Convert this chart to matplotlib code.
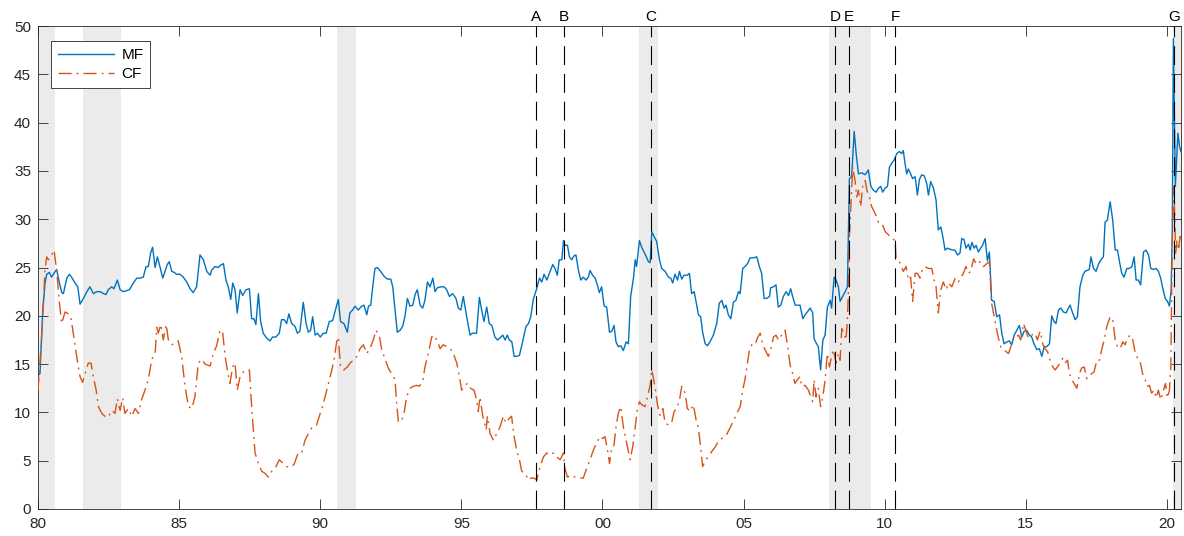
import matplotlib
matplotlib.use("Agg")
import matplotlib.pyplot as plt
import matplotlib.transforms as mtransforms

plt.rcParams['font.family'] = ['Liberation Sans', 'DejaVu Sans']

# MF series (decimal year, value)
mf_t = [
    1980.00, 1980.07, 1980.17, 1980.25, 1980.31, 1980.40, 1980.48, 1980.57, 1980.66, 1980.76,
    1980.84, 1980.90, 1981.02, 1981.11, 1981.19, 1981.31, 1981.41, 1981.49, 1981.61, 1981.73,
    1981.84, 1981.96, 1982.08, 1982.20, 1982.32, 1982.41, 1982.49, 1982.61, 1982.69, 1982.81,
    1982.91, 1983.02, 1983.14, 1983.24, 1983.38, 1983.50, 1983.62, 1983.73, 1983.83, 1983.91,
    1983.99, 1984.06, 1984.15, 1984.23, 1984.32, 1984.42, 1984.50, 1984.58, 1984.65, 1984.74,
    1984.82, 1984.91, 1985.03, 1985.15, 1985.27, 1985.39, 1985.50, 1985.62, 1985.74, 1985.86,
    1985.98, 1986.10, 1986.15, 1986.27, 1986.39,
    1986.45, 1986.57, 1986.66, 1986.74, 1986.83, 1986.90, 1986.98, 1987.06, 1987.16, 1987.25,
    1987.37, 1987.49, 1987.57, 1987.65, 1987.72, 1987.81, 1987.89, 1987.98, 1988.10, 1988.22,
    1988.31, 1988.43, 1988.55, 1988.63, 1988.72, 1988.81, 1988.89, 1988.99, 1989.11, 1989.19,
    1989.28, 1989.40, 1989.50, 1989.58, 1989.66, 1989.73, 1989.82, 1989.90, 1990.00, 1990.11,
    1990.21, 1990.32, 1990.44, 1990.52, 1990.64, 1990.72, 1990.84, 1990.96, 1991.05, 1991.15,
    1991.23, 1991.35, 1991.47, 1991.55, 1991.65, 1991.71, 1991.79, 1991.86, 1991.94, 1992.02,
    1992.14, 1992.26, 1992.38, 1992.50, 1992.57, 1992.65, 1992.73, 1992.83, 1992.92, 1993.00,
    1993.09, 1993.18,
    1993.28, 1993.36, 1993.44, 1993.54, 1993.63, 1993.71, 1993.80, 1993.89, 1993.99, 1994.07,
    1994.15, 1994.27, 1994.39, 1994.48, 1994.58, 1994.69, 1994.81, 1994.89, 1994.98, 1995.07,
    1995.19, 1995.31, 1995.40, 1995.54, 1995.64, 1995.72, 1995.80, 1995.90, 1995.99, 1996.08,
    1996.19, 1996.28, 1996.37, 1996.47, 1996.55, 1996.63, 1996.70, 1996.79, 1996.87, 1996.96,
    1997.06, 1997.17, 1997.29, 1997.38, 1997.46, 1997.55, 1997.67, 1997.77, 1997.85, 1997.93,
    1998.03, 1998.12, 1998.24, 1998.32, 1998.40, 1998.47, 1998.56, 1998.62, 1998.67, 1998.76,
    1998.83, 1998.91, 1998.99, 1999.06, 1999.15, 1999.23, 1999.32, 1999.42, 1999.50, 1999.56,
    1999.65, 1999.74, 1999.82, 1999.89,
    1999.97, 2000.06, 2000.15, 2000.25, 2000.33, 2000.41, 2000.48, 2000.56, 2000.65, 2000.74,
    2000.84, 2000.92, 2001.00, 2001.10, 2001.16, 2001.21, 2001.31, 2001.39, 2001.51, 2001.63,
    2001.69, 2001.75, 2001.83, 2001.92, 2002.02, 2002.10, 2002.22, 2002.34, 2002.42, 2002.49,
    2002.57, 2002.66, 2002.73, 2002.81, 2002.89, 2003.01, 2003.08, 2003.16, 2003.25, 2003.34,
    2003.40, 2003.48, 2003.55, 2003.64, 2003.72, 2003.81, 2003.93, 2004.05, 2004.14, 2004.23,
    2004.31, 2004.38, 2004.46, 2004.55, 2004.64, 2004.73, 2004.82, 2004.88, 2004.97, 2005.05,
    2005.14, 2005.23, 2005.35, 2005.47, 2005.56, 2005.64, 2005.73, 2005.82, 2005.92, 2005.96,
    2006.06, 2006.15, 2006.23, 2006.32, 2006.41, 2006.51, 2006.59, 2006.67, 2006.74, 2006.83,
    2006.91, 2007.00,
    2007.10, 2007.18, 2007.26, 2007.36, 2007.45, 2007.50, 2007.59, 2007.65, 2007.73, 2007.81,
    2007.89, 2007.97, 2008.07, 2008.12, 2008.21, 2008.28, 2008.36, 2008.42, 2008.51, 2008.60,
    2008.68, 2008.75, 2008.83, 2008.92, 2008.99, 2009.07, 2009.19, 2009.31, 2009.42, 2009.51,
    2009.60, 2009.70, 2009.78, 2009.86, 2009.93, 2010.01, 2010.10, 2010.17, 2010.25, 2010.33,
    2010.43, 2010.52, 2010.60, 2010.66, 2010.72, 2010.78, 2010.84, 2010.92, 2010.99, 2011.08,
    2011.16, 2011.23, 2011.31, 2011.40, 2011.49, 2011.55, 2011.63, 2011.73, 2011.82, 2011.90,
    2011.99, 2012.06, 2012.14, 2012.22, 2012.32, 2012.41, 2012.49, 2012.58, 2012.67, 2012.73,
    2012.81, 2012.88, 2012.97, 2013.03, 2013.09, 2013.17, 2013.24, 2013.32, 2013.40, 2013.47,
    2013.56, 2013.64,
    2013.71, 2013.79, 2013.88, 2013.97, 2014.07, 2014.15, 2014.23, 2014.33, 2014.42, 2014.50,
    2014.59, 2014.68, 2014.77, 2014.86, 2014.94, 2015.03, 2015.13, 2015.21, 2015.29, 2015.39,
    2015.48, 2015.57, 2015.65, 2015.74, 2015.84, 2015.92, 2016.00, 2016.07, 2016.16, 2016.24,
    2016.33, 2016.43, 2016.51, 2016.57, 2016.66, 2016.75, 2016.83, 2016.92, 2017.02, 2017.10,
    2017.18, 2017.25, 2017.31, 2017.40, 2017.49, 2017.57, 2017.66, 2017.75, 2017.81, 2017.89,
    2017.99, 2018.08, 2018.17, 2018.25, 2018.32, 2018.40, 2018.48, 2018.58, 2018.67, 2018.76,
    2018.84, 2018.91, 2018.99, 2019.07, 2019.17, 2019.26, 2019.35, 2019.43, 2019.52, 2019.62,
    2019.70, 2019.78, 2019.85, 2019.94, 2020.02, 2020.09, 2020.15, 2020.19, 2020.23, 2020.30,
    2020.39, 2020.45, 2020.50,
]
mf_v = [
    13.9, 14.0, 20.6, 23.4, 24.3, 24.5, 24.0, 24.4, 24.8, 23.4,
    22.4, 22.3, 23.9, 24.3, 24.0, 23.4, 23.0, 21.2, 21.8, 22.5,
    23.0, 22.3, 22.5, 22.5, 22.3, 22.2, 22.7, 23.0, 22.8, 23.7,
    22.7, 22.5, 22.6, 22.7, 23.4, 23.9, 23.9, 24.0, 25.1, 25.1,
    26.5, 27.1, 25.0, 26.1, 25.1, 23.9, 24.6, 25.3, 25.6, 24.6,
    24.5, 24.3, 24.3, 24.0, 23.5, 22.8, 22.4, 23.0, 26.3, 25.8,
    24.6, 24.2, 24.7, 25.1, 25.0,
    25.2, 25.4, 23.7, 23.0, 21.7, 23.4, 22.7, 20.3, 22.7, 22.1,
    22.7, 22.8, 19.7, 19.7, 19.1, 22.3, 19.4, 18.2, 17.7, 17.4,
    17.8, 17.8, 18.2, 19.6, 19.6, 19.2, 20.2, 19.2, 18.9, 18.2,
    18.4, 21.4, 19.2, 18.3, 18.5, 19.9, 18.0, 18.2, 17.8, 18.2,
    18.2, 19.4, 19.5, 20.4, 21.7, 19.4, 19.2, 18.3, 20.3, 20.6,
    21.0, 20.6, 21.0, 21.1, 20.1, 21.0, 21.1, 23.0, 24.9, 25.0,
    24.6, 24.1, 23.8, 23.8, 23.0, 20.6, 18.3, 18.5, 18.9, 19.9,
    21.8, 21.0,
    21.1, 22.2, 22.7, 21.1, 20.8, 21.6, 23.5, 23.0, 23.9, 22.5,
    22.9, 23.0, 23.0, 22.7, 22.0, 22.3, 21.8, 20.8, 20.6, 22.0,
    19.9, 18.0, 18.2, 18.2, 21.9, 20.6, 19.4, 20.9, 19.2, 19.0,
    17.8, 17.5, 17.7, 18.0, 17.5, 18.0, 17.5, 17.3, 15.8, 15.8,
    15.9, 17.3, 18.9, 19.2, 19.9, 21.7, 22.8, 23.9, 23.5, 24.3,
    23.7, 24.4, 25.3, 24.9, 24.2, 25.8, 25.8, 27.8, 27.3, 27.3,
    26.1, 25.8, 26.2, 26.3, 24.7, 23.7, 24.0, 23.7, 24.0, 24.7,
    24.2, 23.9, 23.2, 22.4,
    23.0, 21.0, 20.9, 18.3, 18.4, 19.0, 17.3, 16.8, 16.9, 16.4,
    17.3, 17.1, 22.0, 23.9, 25.8, 25.1, 27.8, 27.1, 26.4, 25.6,
    25.5, 28.7, 28.2, 27.7, 25.8, 24.9, 24.6, 24.0, 23.9, 23.4,
    24.3, 23.7, 24.6, 23.8, 24.2, 24.2, 24.4, 22.3, 22.5, 21.1,
    20.1, 19.9, 18.3, 17.1, 16.9, 17.3, 18.0, 19.2, 21.3, 21.6,
    20.8, 21.1, 20.1, 19.7, 21.4, 21.6, 22.5, 22.3, 24.9, 25.1,
    25.4, 26.0, 26.0, 26.1, 25.1, 24.4, 21.8, 21.8, 22.0, 22.9,
    23.0, 23.2, 20.9, 21.1, 22.0, 22.5, 22.1, 22.8, 22.0, 21.1,
    21.1, 21.1,
    19.7, 20.1, 20.4, 20.8, 20.3, 17.6, 17.1, 16.8, 14.4, 17.5,
    18.0, 20.9, 21.6, 20.8, 24.0, 23.7, 23.0, 21.5, 22.0, 22.5,
    23.0, 34.2, 34.4, 39.1, 36.8, 34.7, 34.8, 34.6, 35.1, 33.4,
    33.0, 32.8, 33.2, 33.4, 32.8, 33.2, 33.4, 35.4, 35.8, 36.1,
    36.8, 37.0, 36.8, 37.1, 35.8, 34.7, 35.2, 34.7, 34.2, 34.4,
    32.5, 34.1, 34.6, 34.5, 33.7, 32.5, 33.9, 33.2, 32.0, 28.9,
    29.2, 28.2, 26.8, 27.0, 26.9, 26.8, 26.8, 26.3, 26.5, 28.0,
    27.9, 27.0, 27.4, 26.8, 27.6, 27.0, 27.3, 26.6, 27.0, 27.3,
    28.0, 25.7,
    26.6, 21.6, 21.5, 19.9, 20.1, 18.2, 17.1, 17.3, 17.4, 17.0,
    18.0, 18.5, 19.0, 17.8, 18.4, 18.5, 18.0, 17.8, 17.1, 16.5,
    16.6, 15.8, 16.8, 16.8, 17.1, 20.0, 19.4, 19.2, 20.6, 20.8,
    20.4, 20.3, 20.8, 21.1, 20.3, 19.6, 19.9, 23.0, 24.2, 24.6,
    24.7, 24.8, 26.1, 24.9, 24.6, 25.3, 25.8, 26.1, 29.7, 29.9,
    31.8, 29.9, 26.8, 26.8, 25.6, 24.4, 24.0, 24.9, 24.9, 25.1,
    26.1, 23.7, 23.7, 23.2, 26.6, 26.8, 26.3, 24.9, 24.8, 24.9,
    24.6, 23.9, 22.9, 21.8, 21.5, 21.0, 22.7, 28.5, 48.7, 33.4,
    38.9, 37.5, 37.0,
]

# CF series (decimal year, value)
cf_t = [
    1980.00, 1980.07, 1980.16, 1980.25, 1980.31, 1980.37, 1980.45, 1980.57, 1980.66, 1980.76,
    1980.84, 1980.96, 1981.08, 1981.16, 1981.25, 1981.37, 1981.49, 1981.58, 1981.67, 1981.78,
    1981.88, 1981.96, 1982.06, 1982.14, 1982.26, 1982.37, 1982.49, 1982.61, 1982.73, 1982.81,
    1982.91, 1983.00, 1983.08, 1983.20, 1983.32, 1983.44, 1983.56, 1983.67, 1983.79, 1983.91,
    1984.03, 1984.15, 1984.21, 1984.26, 1984.35, 1984.44, 1984.54, 1984.62, 1984.74, 1984.86,
    1984.97, 1985.09, 1985.21, 1985.33, 1985.45, 1985.56, 1985.68, 1985.80, 1985.92, 1986.10,
    1986.21, 1986.33, 1986.45,
    1986.54, 1986.63, 1986.71, 1986.80, 1986.90, 1986.98, 1987.06, 1987.16, 1987.28, 1987.39,
    1987.49, 1987.57, 1987.69, 1987.81, 1987.93, 1988.04, 1988.16, 1988.28, 1988.40, 1988.55,
    1988.69, 1988.81, 1988.93, 1989.07, 1989.22, 1989.34, 1989.46, 1989.58, 1989.70, 1989.87,
    1990.00, 1990.11, 1990.23, 1990.37, 1990.49, 1990.58, 1990.64, 1990.72, 1990.84, 1990.96,
    1991.08, 1991.20, 1991.32, 1991.41, 1991.53, 1991.65, 1991.76, 1991.88, 1991.98, 1992.10,
    1992.18, 1992.30, 1992.41, 1992.53, 1992.65, 1992.71, 1992.77, 1992.89, 1992.97, 1993.06,
    1993.18, 1993.30, 1993.42, 1993.51,
    1993.63, 1993.71, 1993.83, 1993.95, 1994.01, 1994.13, 1994.25, 1994.36, 1994.48, 1994.60,
    1994.69, 1994.84, 1994.95, 1995.01, 1995.10, 1995.21, 1995.33, 1995.45, 1995.54, 1995.60,
    1995.66, 1995.76, 1995.88, 1995.92, 1996.02, 1996.14, 1996.25, 1996.37, 1996.49, 1996.58,
    1996.70, 1996.78, 1996.87, 1996.96, 1997.06, 1997.14, 1997.26, 1997.38, 1997.46, 1997.58,
    1997.67, 1997.79, 1997.91, 1998.03, 1998.14, 1998.26, 1998.38, 1998.50, 1998.62, 1998.67,
    1998.76, 1998.88, 1999.03, 1999.15, 1999.32, 1999.44, 1999.56, 1999.68, 1999.80, 1999.92,
    2000.01, 2000.09, 2000.18, 2000.25, 2000.33, 2000.41, 2000.48, 2000.56, 2000.65, 2000.74,
    2000.86, 2000.98, 2001.07, 2001.16, 2001.24, 2001.31, 2001.39, 2001.51, 2001.59, 2001.69,
    2001.75, 2001.86, 2001.95, 2002.04, 2002.14, 2002.22, 2002.34, 2002.45, 2002.54, 2002.63,
    2002.73, 2002.81, 2002.93, 2003.01, 2003.10, 2003.22, 2003.32, 2003.40, 2003.48, 2003.55,
    2003.67, 2003.79, 2003.91, 2003.99, 2004.11, 2004.23, 2004.31, 2004.40, 2004.52, 2004.64,
    2004.76, 2004.88, 2004.97, 2005.05, 2005.14, 2005.21, 2005.29, 2005.41, 2005.49, 2005.59,
    2005.68, 2005.76, 2005.88, 2005.96, 2006.06, 2006.15, 2006.23, 2006.35, 2006.47, 2006.55,
    2006.65, 2006.74, 2006.82, 2006.91, 2007.00,
    2007.06, 2007.18, 2007.30, 2007.38, 2007.45, 2007.50, 2007.57, 2007.65, 2007.73, 2007.81,
    2007.89, 2007.97, 2008.04, 2008.12, 2008.18, 2008.28, 2008.36, 2008.42, 2008.48, 2008.56,
    2008.63, 2008.68, 2008.72, 2008.75, 2008.80, 2008.87, 2008.95, 2009.01, 2009.07, 2009.15,
    2009.22, 2009.31, 2009.37, 2009.46, 2009.54, 2009.66, 2009.78, 2009.90, 2010.02, 2010.13,
    2010.25, 2010.37, 2010.40, 2010.49, 2010.57, 2010.66, 2010.76, 2010.84, 2010.92, 2010.99,
    2011.08, 2011.16, 2011.25, 2011.35, 2011.43, 2011.55, 2011.67, 2011.75, 2011.82, 2011.90,
    2011.99, 2012.08, 2012.18, 2012.26, 2012.38, 2012.50, 2012.61, 2012.70, 2012.79, 2012.88,
    2012.97, 2013.05, 2013.15, 2013.26, 2013.38, 2013.50, 2013.62, 2013.71,
    2013.79, 2013.88, 2013.95, 2014.03, 2014.11, 2014.21, 2014.30, 2014.39, 2014.47, 2014.56,
    2014.66, 2014.74, 2014.82, 2014.92, 2015.01, 2015.09, 2015.21, 2015.33, 2015.41, 2015.51,
    2015.60, 2015.68, 2015.77, 2015.86, 2015.96, 2016.04, 2016.12, 2016.22, 2016.31, 2016.39,
    2016.48, 2016.55, 2016.63, 2016.71, 2016.81, 2016.90, 2016.98, 2017.07, 2017.16, 2017.26,
    2017.34, 2017.42, 2017.52, 2017.61, 2017.69, 2017.78, 2017.87, 2017.99, 2018.08, 2018.17,
    2018.25, 2018.34, 2018.44, 2018.52, 2018.60, 2018.70, 2018.79, 2018.87, 2018.96, 2019.05,
    2019.14, 2019.23, 2019.31, 2019.38, 2019.46, 2019.55, 2019.62, 2019.70, 2019.78, 2019.88,
    2019.95, 2020.02, 2020.09, 2020.14, 2020.19, 2020.25, 2020.31, 2020.36, 2020.41, 2020.47,
    2020.50,
]
cf_v = [
    12.3, 15.1, 19.5, 24.9, 26.1, 25.8, 26.1, 26.8, 24.7, 21.3,
    19.2, 20.4, 20.2, 19.9, 18.2, 15.8, 13.7, 13.1, 14.0, 15.1,
    15.1, 13.7, 12.3, 10.6, 9.9, 9.6, 9.5, 10.2, 9.9, 11.4,
    10.2, 11.5, 9.9, 10.4, 9.6, 10.4, 9.9, 11.3, 12.3, 13.4,
    15.5, 16.1, 18.8, 18.2, 19.1, 17.5, 19.1, 17.5, 17.0, 17.2,
    17.4, 15.8, 12.7, 10.6, 10.4, 11.6, 15.1, 15.5, 15.0, 14.8,
    16.1, 16.9, 18.5,
    18.4, 15.8, 14.4, 13.0, 14.7, 15.1, 12.3, 13.7, 14.2, 14.4,
    14.4, 10.6, 5.8, 4.7, 3.9, 3.7, 3.3, 3.9, 4.2, 5.1,
    4.7, 4.4, 4.3, 4.6, 5.8, 5.8, 7.1, 7.8, 8.4, 8.7,
    9.9, 10.9, 12.3, 13.9, 15.4, 17.3, 17.8, 14.7, 14.4, 14.7,
    15.2, 15.4, 15.9, 16.6, 17.0, 16.1, 16.6, 17.5, 18.5, 17.8,
    16.5, 15.5, 14.6, 14.0, 13.4, 10.9, 9.0, 9.2, 9.9, 11.6,
    12.5, 12.7, 12.8, 12.7,
    13.2, 14.7, 16.1, 17.8, 18.0, 17.5, 16.6, 17.0, 16.8, 16.6,
    16.3, 15.1, 13.4, 12.3, 12.7, 13.0, 12.5, 12.3, 11.3, 10.1,
    11.6, 9.6, 8.2, 9.6, 7.8, 7.1, 7.8, 8.5, 9.6, 8.9,
    9.4, 9.6, 7.5, 6.1, 5.1, 3.9, 3.7, 3.0, 3.2, 3.2,
    3.0, 4.4, 5.4, 5.8, 5.6, 5.8, 5.4, 5.1, 5.8, 4.2,
    3.3, 3.5, 3.3, 3.2, 3.2, 4.2, 5.1, 6.1, 6.9, 7.5,
    7.3, 7.5, 6.1, 4.7, 6.4, 6.6, 8.5, 9.9, 10.6, 8.5,
    6.8, 5.1, 6.4, 8.5, 10.3, 11.1, 10.8, 10.6, 11.6, 12.8,
    14.4, 12.7, 10.8, 9.7, 10.4, 8.9, 8.7, 8.9, 10.1, 10.4,
    11.3, 12.7, 12.0, 10.4, 10.1, 10.8, 9.2, 8.4, 6.4, 4.4,
    5.1, 5.6, 6.1, 6.4, 7.0, 7.3, 7.5, 7.7, 8.4, 9.1,
    9.9, 10.6, 12.3, 13.4, 15.1, 16.5, 17.0, 17.0, 17.7, 18.2,
    17.0, 16.5, 15.8, 16.5, 17.8, 18.0, 17.5, 18.0, 18.5, 17.1,
    14.9, 14.0, 13.0, 13.4, 13.7,
    12.7, 12.8, 12.3, 11.6, 11.1, 13.4, 11.6, 12.5, 10.6, 11.6,
    13.4, 16.1, 14.7, 15.8, 16.5, 15.1, 16.1, 15.4, 18.7, 18.2,
    17.5, 19.6, 23.0, 28.2, 31.3, 35.4, 34.0, 32.3, 33.0, 31.3,
    33.4, 34.0, 33.0, 32.3, 31.3, 30.6, 29.7, 29.6, 28.7, 28.4,
    28.0, 27.8, 26.1, 25.8, 25.3, 24.6, 25.1, 23.7, 24.0, 21.5,
    24.4, 24.4, 23.9, 24.9, 25.1, 24.9, 24.9, 23.7, 23.0, 20.3,
    22.7, 23.5, 22.7, 23.4, 23.0, 23.9, 23.5, 24.0, 24.4, 25.1,
    24.4, 24.6, 25.9, 25.3, 25.6, 25.1, 25.4, 25.6,
    21.3, 19.9, 18.9, 17.7, 16.8, 16.6, 16.3, 16.1, 16.8, 17.7,
    17.8, 18.0, 17.5, 19.2, 18.4, 17.7, 18.0, 18.2, 17.5, 18.4,
    17.1, 16.6, 16.3, 15.4, 14.7, 14.4, 14.7, 15.1, 15.6, 15.1,
    15.4, 14.0, 13.4, 13.0, 12.5, 14.0, 14.6, 14.7, 13.5, 13.9,
    14.0, 14.2, 15.4, 15.4, 16.5, 17.5, 18.9, 19.9, 19.6, 17.5,
    16.8, 16.6, 17.3, 17.0, 17.7, 18.0, 17.5, 16.3, 15.6, 15.3,
    14.0, 13.4, 12.7, 12.8, 12.0, 12.3, 11.5, 12.3, 11.3, 12.3,
    13.0, 11.5, 12.3, 14.7, 27.8, 33.4, 26.5, 27.8, 26.8, 28.2,
    28.0,
]

assert len(mf_t) == len(mf_v)
assert len(cf_t) == len(cf_v)

# event markers and recession bands
event_labels = ['A', 'B', 'C', 'D', 'E', 'F', 'G']
event_t = [1997.65, 1998.64, 2001.72, 2008.24, 2008.74, 2010.37, 2020.25]
rec_start = [1980.00, 1981.60, 1990.60, 2001.30, 2008.03, 2020.20]
rec_end = [1980.60, 1982.94, 1991.27, 2001.97, 2009.52, 2020.50]

xtick_years = list(range(1980, 2021, 5))
xtick_labels = ['80', '85', '90', '95', '00', '05', '10', '15', '20']

axcol = '#262626'

fig = plt.figure(figsize=(11.84, 5.36), dpi=100)
ax = fig.add_axes([38 / 1184, 1 - 509 / 536, 1143 / 1184, 483 / 536])

for a, b in zip(rec_start, rec_end):
    ax.axvspan(a, b, color='#ebebeb', lw=0, zorder=0)

ax.plot(mf_t, mf_v, color='#0072bd', lw=1.0, label='MF', zorder=2)
ax.plot(cf_t, cf_v, color='#d95319', lw=1.0, ls=(0, (9.4, 3.6, 1.4, 3.6)),
        label='CF', zorder=3)

trans = mtransforms.blended_transform_factory(ax.transData, ax.transAxes)
for lab, t in zip(event_labels, event_t):
    ax.axvline(t, color='k', lw=0.8, ls=(0, (17, 8)), zorder=4)
    ax.text(t, 1.004, lab, transform=trans, ha='center', va='bottom',
            fontsize=11, color='k')

ax.set_xlim(1980, 2020.5)
ax.set_ylim(0, 50)
ax.set_xticks(xtick_years)
ax.set_xticklabels(xtick_labels)
ax.set_yticks(range(0, 51, 5))
ax.tick_params(direction='in', top=True, right=True, length=7, width=0.6,
               colors=axcol, labelsize=11, labelcolor=axcol)
ax.tick_params(axis='x', pad=6)
ax.tick_params(axis='y', pad=5)
for s in ax.spines.values():
    s.set_color(axcol)
    s.set_linewidth(0.6)

leg = ax.legend(loc='upper left', bbox_to_anchor=((51 - 38) / 1143, (509 - 41) / 483),
                borderaxespad=0, fontsize=11, handlelength=3.7, handletextpad=0.45,
                borderpad=0.45, labelspacing=0.35, fancybox=False, framealpha=1)
leg.get_frame().set_edgecolor(axcol)
leg.get_frame().set_linewidth(0.6)

fig.savefig('out.png', dpi=100)
